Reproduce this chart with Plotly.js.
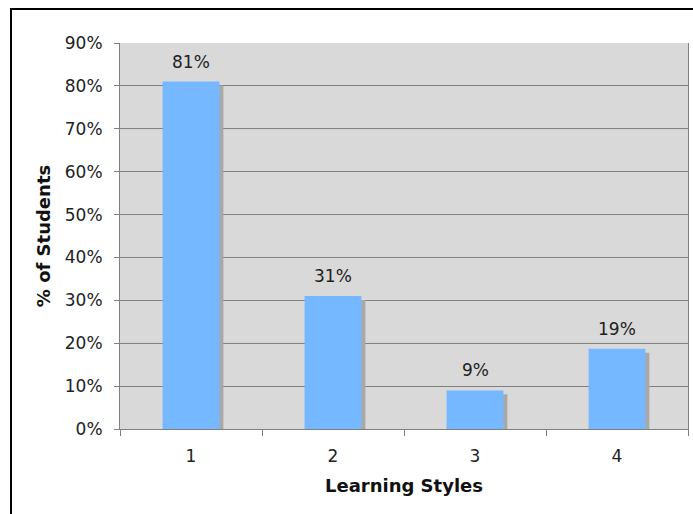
<!DOCTYPE html>
<html>
<head>
<meta charset="utf-8">
<script src="https://cdn.plot.ly/plotly-3.0.1.min.js"></script>
<style>
  body { margin: 0; padding: 0; background: #fff; }
  #chart { position: absolute; left: 0; top: 0; width: 693px; height: 514px; }
  #frame { position: absolute; left: 10px; top: 8px; width: 800px; height: 600px;
           border-left: 2px solid #000; border-top: 2px solid #000; pointer-events: none; }
</style>
</head>
<body>
<div id="chart"></div>
<div id="frame"></div>
<script>
const categories = ["1", "2", "3", "4"];
const values = [0.81, 0.31, 0.09, 0.187];
const labels = ["81%", "31%", "9%", "19%"];
const yTickVals = [0, 0.1, 0.2, 0.3, 0.4, 0.5, 0.6, 0.7, 0.8, 0.9];
const yTickText = ["0%", "10%", "20%", "30%", "40%", "50%", "60%", "70%", "80%", "90%"];

const FONT = "DejaVu Sans, Verdana, sans-serif";
const shadowDrop = 0.009;

const shadow = {
  type: "bar", x: categories, y: values.map(v => v - shadowDrop),
  width: 0.4, offset: -0.2 + 0.028,
  marker: { color: "#a9a9a9", line: { width: 0 } },
  hoverinfo: "skip", showlegend: false
};
const bars = {
  type: "bar", x: categories, y: values,
  width: 0.4, offset: -0.2,
  marker: { color: "#75b8ff", line: { width: 0 } },
  showlegend: false
};

// category axis: annotation x given as category index
const annotations = categories.map((c, i) => ({
  x: i, y: values[i], xref: "x", yref: "y",
  text: labels[i], showarrow: false,
  xanchor: "center", yanchor: "bottom", yshift: 8,
  font: { family: FONT, size: 17, color: "#222" }
}));

const layout = {
  width: 693, height: 514,
  margin: { l: 120, r: 5, t: 43, b: 85 },
  paper_bgcolor: "#ffffff",
  plot_bgcolor: "#d9d9d9",
  barmode: "overlay",
  font: { family: FONT, size: 17, color: "#222" },
  annotations: annotations,
  xaxis: {
    type: "category",
    categoryorder: "array", categoryarray: categories,
    range: [-0.5, categories.length - 0.5],
    tickson: "boundaries",
    ticks: "outside", ticklen: 6, tickcolor: "#808080",
    ticklabelstandoff: 12,
    showline: true, linecolor: "#808080", linewidth: 1, mirror: false,
    showgrid: false,
    tickfont: { family: FONT, size: 17, color: "#222" },
    title: { text: "<b>Learning Styles</b>", font: { family: FONT, size: 18, color: "#111" }, standoff: 13 }
  },
  yaxis: {
    range: [0, 0.9],
    tickvals: yTickVals, ticktext: yTickText,
    ticks: "outside", ticklen: 5, tickcolor: "#808080",
    ticklabelstandoff: 8,
    showline: true, linecolor: "#808080", linewidth: 1, mirror: true,
    showgrid: true, gridcolor: "#808080", gridwidth: 1,
    zeroline: false,
    tickfont: { family: FONT, size: 17, color: "#222" },
    title: { text: "<b>% of Students</b>", font: { family: FONT, size: 18, color: "#111" }, standoff: 9 }
  },
  bargap: 0.6
};

Plotly.newPlot("chart", [shadow, bars], layout, { displayModeBar: false, staticPlot: true });
</script>
</body>
</html>
